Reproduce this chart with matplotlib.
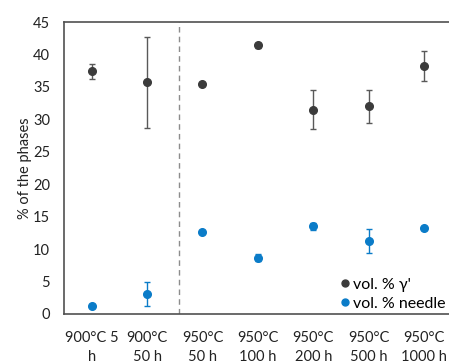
import matplotlib
matplotlib.use("Agg")
import matplotlib.pyplot as plt
from matplotlib.lines import Line2D

plt.rcParams['font.family'] = ['Lato', 'DejaVu Sans']

# conditions (x tick labels)
labels = ["900°C 5\nh", "900°C\n50 h", "950°C\n50 h", "950°C\n100 h",
          "950°C\n200 h", "950°C\n500 h", "950°C\n1000 h"]

# vol. % gamma prime and its error
gamma = [37.4, 35.7, 35.4, 41.4, 31.5, 32.0, 38.3]
gamma_err = [1.15, 6.95, 0.3, 0.4, 3.0, 2.6, 2.3]

# vol. % needle and its error
needle = [1.3, 3.1, 12.7, 8.7, 13.5, 11.25, 13.2]
needle_err = [0.2, 1.85, 0.2, 0.5, 0.6, 1.8, 0.2]

gray = "#3b3b3b"
blue = "#0b7cc8"

fig = plt.figure(figsize=(4.49, 3.63), dpi=100)
ax = fig.add_axes([0.1425, 0.135, 0.8575, 0.804])

x = list(range(len(labels)))
ax.errorbar(x, gamma, yerr=gamma_err, fmt='o', color=gray, ms=5.5,
            ecolor="#595959", elinewidth=1.0, capsize=2.5, capthick=1.0)
ax.errorbar(x, needle, yerr=needle_err, fmt='o', color=blue, ms=5.5,
            ecolor=blue, elinewidth=1.0, capsize=2.5, capthick=1.0)

# separator between 900 and 950 series
ax.axvline(1.57, color="#8c8c8c", lw=1.0, ls=(0, (4, 3)))

ax.set_xlim(-0.5, 6.45)
ax.set_ylim(0, 45)
ax.set_yticks(range(0, 46, 5))
ax.set_xticks(x)
ax.set_xticklabels(labels, linespacing=1.45)
ax.tick_params(axis='both', length=0, labelsize=10.5, colors="#222222")
ax.tick_params(axis='x', pad=12)
ax.tick_params(axis='y', pad=10)
ax.set_ylabel("% of the phases", fontsize=10.5, color="#222222", labelpad=1)

for s in ['left', 'top', 'bottom']:
    ax.spines[s].set_color("#505050")
    ax.spines[s].set_linewidth(1.2)
ax.spines['right'].set_visible(False)

handles = [Line2D([], [], ls='', marker='o', color=gray, ms=5),
           Line2D([], [], ls='', marker='o', color=blue, ms=5)]
ax.legend(handles, ["vol. % γ'", "vol. % needle"], loc='lower right',
          frameon=False, fontsize=11.5, handletextpad=0.05, handlelength=1.0,
          borderaxespad=0.0, labelspacing=0.3, borderpad=0.2)

fig.savefig("out.png", dpi=100)
